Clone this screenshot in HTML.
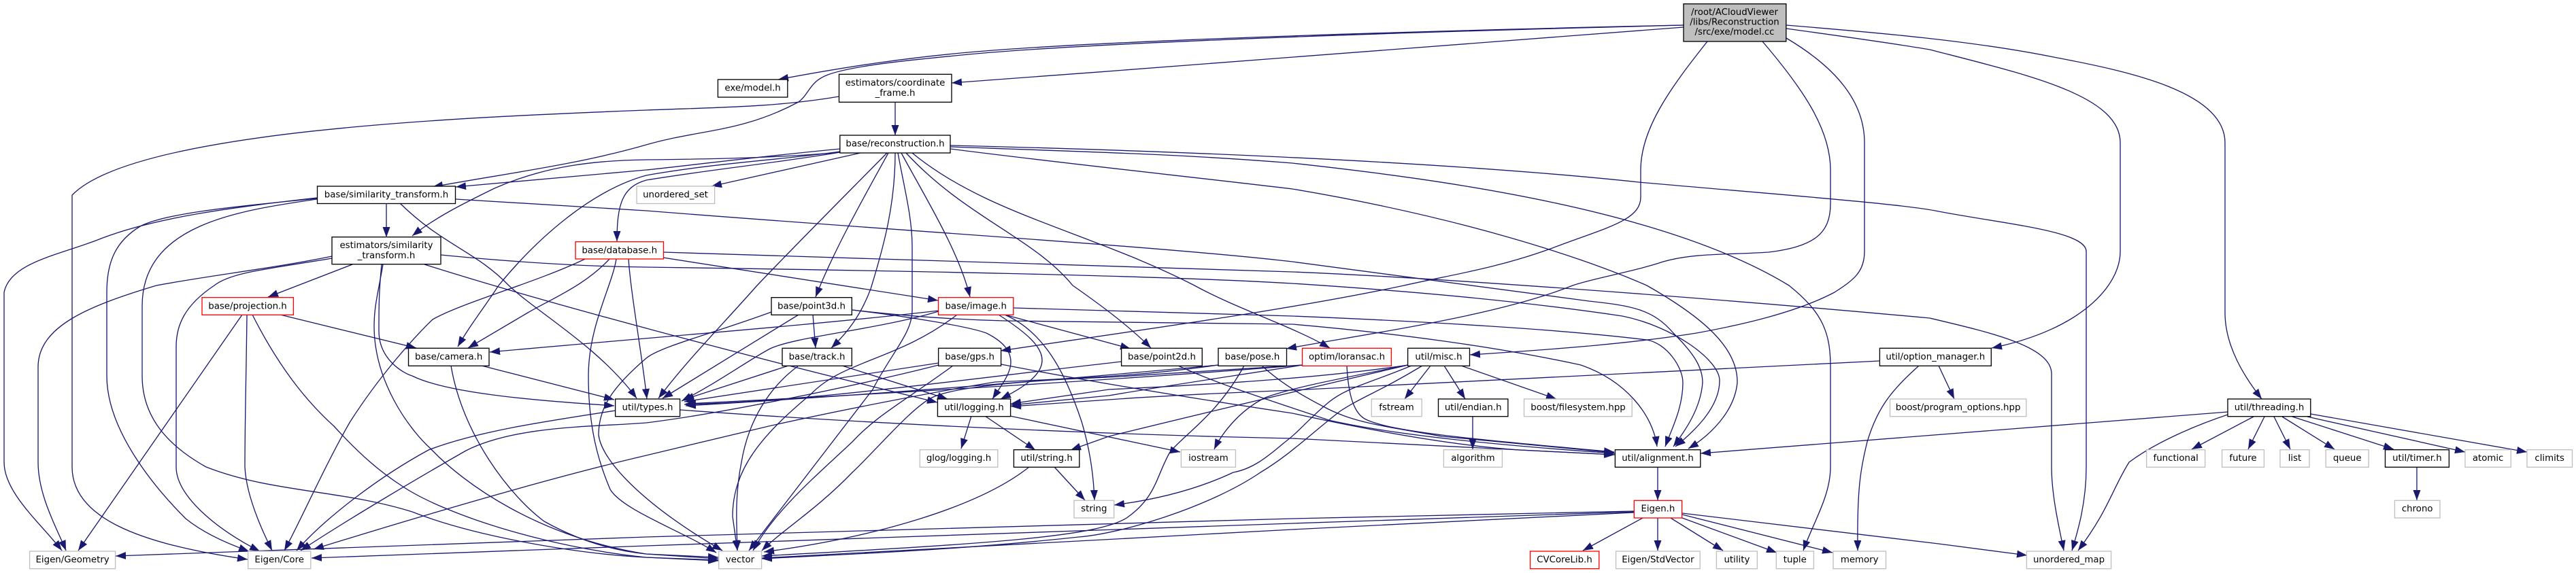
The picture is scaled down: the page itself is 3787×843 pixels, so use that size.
<!DOCTYPE html>
<html><head><meta charset="utf-8"><title>model.cc include graph</title>
<style>html,body{margin:0;padding:0;background:#fff}svg{display:block}
text{font-family:"DejaVu Sans","Liberation Sans",sans-serif;font-size:13.33px;text-anchor:middle;fill:#000}
.n rect{fill:#fff;stroke:#000;stroke-width:1.33}.g rect{fill:#fff;stroke:#bfbfbf;stroke-width:1.33}.r rect{fill:#fff;stroke:#f00;stroke-width:1.33}</style></head>
<body>
<svg xmlns="http://www.w3.org/2000/svg" width="3787" height="843" viewBox="0 0 3787 843">
<defs><marker id="a" markerUnits="userSpaceOnUse" markerWidth="16" markerHeight="12" refX="15" refY="6" orient="auto"><path d="M0 .5L15 6L0 11.5z" fill="#191970"/></marker></defs>
<rect width="3787" height="843" fill="#fff"/>
<g fill="none" stroke="#191970" stroke-width="1.33" marker-end="url(#a)">
<!-- root -->
<path d="M2475 37C2150 44 1650 58 1435 76C1340 84 1250 97 1144 117"/>
<path d="M2475 37C2150 45 1650 60 1435 79C1340 88 1255 96 1217 110C1190 120 1190 138 1174 150C1090 195 1030 190 950 213C850 242 745 255 636 275"/>
<path d="M2475 40C2250 60 1800 92 1399 122"/>
<path d="M2510 61C2455 130 2412 190 2412 250L2412 290C2412 325 2360 335 2282 365C2200 395 2130 405 2064 420C1900 455 1680 485 1471 516"/>
<path d="M2591 61C2650 130 2691 190 2691 250L2691 300C2691 345 2665 363 2600 371C2540 375 2490 372 2445 385C2400 400 2340 410 2312 420C2200 465 2015 490 1891 513"/>
<path d="M2626 56C2700 100 2741 150 2741 210L2741 370C2741 400 2725 412 2697 430C2640 460 2560 478 2494 490C2400 505 2300 513 2161 522"/>
<path d="M2626 37C2760 48 2900 60 3019 84C3130 105 3271 135 3271 210L3271 460C3271 510 3300 555 3325 587"/>
<path d="M2626 42C2720 55 2790 65 2837 73C2980 110 3117 140 3117 210L3117 370C3117 420 3060 485 2928 512"/>
<!-- coordinate frame -->
<path d="M1316 150L1316 199"/>
<path d="M1233 142C1140 158 1050 158 950 162C700 172 200 190 106 287L106 687C106 760 200 800 364 823"/>
<!-- reconstruction -->
<path d="M1265 225L1046 274"/>
<path d="M1235 224C1150 232 1050 234 950 235C870 236 800 245 727 277C680 300 640 320 606 347"/>
<path d="M1235 219C1100 232 1000 245 950 250L670 275"/>
<path d="M1235 223C1150 235 1050 240 950 258C870 280 790 350 733 420C710 455 690 480 673 510"/>
<path d="M1235 224C1140 240 1040 250 950 265C915 275 907 300 907 355"/>
<path d="M1304 225C1240 290 1170 360 1113 420C1060 480 1010 530 968 586"/>
<path d="M1306 225C1270 290 1225 370 1199 437"/>
<path d="M1316 225C1316 300 1300 360 1280 425C1265 465 1245 490 1222 512"/>
<path d="M1320 225C1330 280 1341 320 1341 363L1341 457C1341 490 1310 520 1283 573L1101 810"/>
<path d="M1325 225C1360 290 1410 370 1426 437"/>
<path d="M1332 225C1420 320 1520 350 1577 420C1620 450 1660 480 1692 512"/>
<path d="M1341 225C1450 315 1600 340 1756 420C1820 455 1900 480 1955 512"/>
<path d="M1397 214C1650 220 2100 235 2409 268C2600 285 2800 300 2850 311C2950 330 3067 340 3067 370L3067 687C3067 740 3055 780 3046 810"/>
<path d="M1397 216C1650 225 1750 228 1900 240C2130 265 2450 310 2630 420C2680 460 2691 490 2691 540L2691 687C2691 730 2665 770 2651 810"/>
<path d="M1397 219C1560 240 1750 260 1900 278C2150 320 2330 380 2421 420C2500 465 2555 510 2554 563C2550 605 2515 640 2482 660"/>
<!-- similarity transform -->
<path d="M568 299L568 349"/>
<path d="M588 299C650 360 700 370 748 420C790 460 880 510 936 586"/>
<path d="M670 293L950 310C1300 338 1700 362 1900 385C2050 405 2200 425 2336 443C2400 450 2430 455 2460 490C2490 520 2503 540 2503 563C2500 600 2480 630 2460 657"/>
<path d="M466 291C340 305 230 320 151 350C90 375 15 385 6 430L6 680C6 725 60 770 91 810"/>
<path d="M466 292C330 305 240 315 206 333C170 355 157 385 157 430L157 553C157 640 240 730 273 763C300 785 335 800 366 811"/>
<path d="M466 293C350 310 209 330 209 450L209 553C209 620 255 660 303 687C400 725 500 720 606 753C700 790 850 815 950 820L1056 824"/>
<!-- estimators similarity -->
<path d="M488 377C400 395 310 405 230 420C130 450 56 480 56 540L56 680C56 730 85 780 97 810"/>
<path d="M488 380C400 395 340 400 315 420C270 450 259 480 259 510L259 687C259 730 320 780 382 811"/>
<path d="M518 389L394 437"/>
<path d="M563 389C556 430 550 450 550 480C550 560 600 630 633 660C680 710 790 790 950 815L1056 822"/>
<path d="M561 389C557 430 557 450 557 487C557 530 595 550 606 553C660 580 800 590 903 597"/>
<path d="M624 389C800 445 1100 525 1378 592"/>
<path d="M648 375C750 385 850 392 950 393C1300 398 1700 405 1900 417C2100 430 2250 445 2385 465C2460 480 2528 530 2528 560C2528 600 2490 635 2463 657"/>
<!-- database -->
<path d="M860 381C790 415 680 445 636 470C610 495 560 550 515 620C480 680 440 770 418 810"/>
<path d="M896 381C860 420 810 440 776 460L688 512"/>
<path d="M906 381C900 420 865 480 865 553C865 630 880 680 897 720C915 750 1000 780 1053 813"/>
<path d="M924 381C927 430 945 530 951 587"/>
<path d="M975 379L1379 442"/>
<path d="M975 371L1900 400C2100 408 2500 437 2837 468C2930 490 3016 510 3016 550L3016 687C3016 730 3028 780 3034 810"/>
<!-- projection -->
<path d="M412 463L612 512"/>
<path d="M356 463L115 810"/>
<path d="M363 463C362 550 360 620 360 687C362 730 385 780 400 810"/>
<path d="M371 463C410 540 450 590 491 627C530 670 560 695 591 715C650 755 800 805 950 820L1056 825"/>
<!-- camera -->
<path d="M708 538L903 588"/>
<path d="M663 538C680 640 750 730 800 767C850 795 900 810 950 815L1056 820"/>
<!-- types -->
<path d="M905 604C800 620 700 635 630 662C560 700 480 760 436 810"/>
<path d="M1000 603C1300 625 1650 640 1900 645C2050 652 2200 660 2373 669"/>
<!-- image -->
<path d="M1380 457C1200 478 950 497 720 518"/>
<path d="M1380 458C1290 485 1170 495 1132 513C1100 530 1060 560 1002 590"/>
<path d="M1407 463C1320 530 1240 530 1192 580C1120 640 1077 690 1077 760L1084 810"/>
<path d="M1477 463L1662 513"/>
<path d="M1468 463C1510 490 1532 510 1532 530C1532 555 1495 575 1471 587"/>
<path d="M1477 463C1540 490 1570 560 1590 620C1605 670 1608 710 1609 736"/>
<path d="M1490 453L1900 465C2100 473 2300 485 2421 500C2450 505 2474 540 2474 563C2474 600 2458 630 2448 657"/>
<!-- point3d -->
<path d="M1253 456C1330 465 1400 470 1477 472L1900 477C2050 490 2200 510 2324 537C2390 560 2430 610 2436 657"/>
<path d="M1174 463L974 586"/>
<path d="M1195 463L1199 512"/>
<path d="M1253 456C1330 465 1423 480 1450 490C1480 505 1486 520 1486 533C1486 550 1470 570 1459 587"/>
<path d="M1134 459C1050 490 970 510 950 527C900 570 880 600 880 640C885 680 950 745 1062 810"/>
<!-- track -->
<path d="M1159 538L1005 588"/>
<path d="M1174 538C1130 570 1100 620 1090 680C1080 730 1083 770 1084 810"/>
<path d="M1238 538L1393 587"/>
<!-- gps -->
<path d="M1380 534L1006 591"/>
<path d="M1380 537C1250 570 1050 610 950 622C880 628 760 625 685 663C620 700 510 765 442 810"/>
<path d="M1401 538C1330 590 1290 610 1253 650C1200 700 1140 750 1107 810"/>
<path d="M1472 536C1620 565 1780 590 1900 608C2000 630 2130 655 2233 662L2374 669"/>
<!-- point2d -->
<path d="M1649 532C1400 560 1200 590 1006 595"/>
<path d="M1732 538C1790 565 1870 590 1953 618C2050 640 2200 655 2374 667"/>
<!-- pose -->
<path d="M1791 537C1600 555 1300 580 1008 597"/>
<path d="M1791 537C1700 550 1630 555 1463 562C1400 572 1250 600 1130 627L950 670C800 705 600 765 461 808"/>
<path d="M1829 538C1790 610 1740 640 1720 665C1700 700 1700 730 1659 760C1620 790 1450 800 1120 818"/>
<path d="M1855 538C1890 570 1930 590 1953 602C1990 620 2020 625 2120 642L2373 666"/>
<!-- loransac -->
<path d="M1915 537C1700 555 1300 580 1008 594"/>
<path d="M1915 537C1800 555 1700 570 1630 582L1486 596"/>
<path d="M1915 537C1800 545 1700 550 1630 555C1500 560 1400 570 1370 585C1340 600 1290 660 1253 695C1200 750 1150 780 1120 810"/>
<path d="M1980 538C1982 580 1990 610 2010 618C2050 635 2150 645 2373 665"/>
<!-- misc -->
<path d="M2103 538L2065 587"/>
<path d="M2123 538L2154 587"/>
<path d="M2148 538L2288 587"/>
<path d="M2070 537C1950 555 1800 565 1630 573L1486 594"/>
<path d="M2070 537C1980 555 1900 570 1860 585C1820 605 1795 640 1785 661"/>
<path d="M2070 537C1950 565 1800 600 1630 642L1574 662"/>
<path d="M2075 538C2010 565 1980 570 1953 592C1920 620 1910 635 1887 652C1860 675 1840 690 1813 695C1760 720 1700 735 1638 743"/>
<path d="M2091 538C2030 575 2000 585 1970 605C1925 640 1895 670 1853 695C1780 745 1650 785 1586 790C1400 810 1250 815 1120 822"/>
<!-- endian -->
<path d="M2165 613L2165 661"/>
<!-- logging -->
<path d="M1428 612L1413 660"/>
<path d="M1448 612L1522 662"/>
<path d="M1485 612L1735 665"/>
<!-- util/string -->
<path d="M1513 687C1440 745 1290 790 1123 812"/>
<path d="M1550 687L1595 736"/>
<!-- option -->
<path d="M2850 538L2873 587"/>
<path d="M2821 538C2780 575 2760 600 2745 650C2735 690 2730 720 2731 810"/>
<path d="M2763 531L1900 574C1800 578 1700 583 1630 588L1486 598"/>
<!-- threading -->
<path d="M3275 606L2500 667"/>
<path d="M3275 610C3230 625 3170 650 3130 680C3105 720 3100 750 3055 810"/>
<path d="M3313 613L3222 661"/>
<path d="M3329 613L3305 661"/>
<path d="M3343 613L3367 661"/>
<path d="M3355 613L3432 661"/>
<path d="M3370 613L3519 661"/>
<path d="M3392 613L3624 665"/>
<path d="M3397 609L3715 665"/>
<path d="M3553 687L3553 736"/>
<!-- alignment and Eigen -->
<path d="M2437 687L2437 736"/>
<path d="M2415 762L2327 810"/>
<path d="M2437 762L2437 810"/>
<path d="M2456 762L2533 810"/>
<path d="M2473 762L2612 813"/>
<path d="M2473 757L2694 813"/>
<path d="M2473 755L2850 800L2980 817"/>
<path d="M2402 752L1900 763L950 790L170 818"/>
<path d="M2402 753L1900 770L950 803L458 821"/>
<path d="M2402 754L1900 779L1120 821"/>
</g>

<g class="n">
<rect x="2475" y="5.7" width="150.8" height="55.3" style="fill:#bfbfbf"/><text x="2550" y="22">/root/ACloudViewer</text><text x="2550" y="36.5">/libs/Reconstruction</text><text x="2550" y="51">/src/exe/model.cc</text>
<rect x="1055.4" y="117" width="102.4" height="26"/><text x="1106.6" y="133.5">exe/model.h</text>
<rect x="1233.5" y="109.3" width="165.5" height="41"/><text x="1316" y="126">estimators/coordinate</text><text x="1316" y="141">_frame.h</text>
<rect x="1234.8" y="199" width="162.2" height="26"/><text x="1316" y="215.5">base/reconstruction.h</text>
<rect x="466.5" y="274" width="203" height="25.5"/><text x="568" y="290.5">base/similarity_transform.h</text>
<rect x="488" y="348.7" width="160" height="40"/><text x="568" y="365">estimators/similarity</text><text x="568" y="380">_transform.h</text>
<rect x="600.5" y="512.3" width="118.5" height="26"/><text x="659.7" y="529">base/camera.h</text>
<rect x="904.6" y="587" width="95" height="25.7"/><text x="952" y="603.5">util/types.h</text>
<rect x="1134" y="437.7" width="118.3" height="25.6"/><text x="1193" y="454.5">base/point3d.h</text>
<rect x="1150" y="512.3" width="102.3" height="26"/><text x="1201" y="529">base/track.h</text>
<rect x="1379.6" y="512.3" width="92" height="26"/><text x="1425.6" y="529">base/gps.h</text>
<rect x="1648.6" y="512.3" width="118.7" height="26"/><text x="1708" y="529">base/point2d.h</text>
<rect x="1791" y="512.3" width="100.5" height="26"/><text x="1841" y="529">base/pose.h</text>
<rect x="1378.4" y="587" width="107.2" height="25.7"/><text x="1432" y="603.5">util/logging.h</text>
<rect x="1490.4" y="661.7" width="96.4" height="25.6"/><text x="1538.6" y="678">util/string.h</text>
<rect x="2069.6" y="512.3" width="90.9" height="26"/><text x="2115" y="529">util/misc.h</text>
<rect x="2763.4" y="512.3" width="163.9" height="26"/><text x="2845.3" y="529">util/option_manager.h</text>
<rect x="2114.5" y="587" width="102.4" height="25.7"/><text x="2165.7" y="603.5">util/endian.h</text>
<rect x="2374.4" y="661.7" width="125.4" height="25.6"/><text x="2437" y="678">util/alignment.h</text>
<rect x="3275" y="587" width="121.8" height="25.7"/><text x="3336" y="603.5">util/threading.h</text>
<rect x="3506.5" y="661.7" width="93.9" height="25.6"/><text x="3553.4" y="678">util/timer.h</text>
</g>
<g class="r">
<rect x="846" y="355.7" width="129.5" height="25.3"/><text x="910.7" y="372.5">base/database.h</text>
<rect x="297" y="437.7" width="134.4" height="25.6"/><text x="364" y="454.5">base/projection.h</text>
<rect x="1379.6" y="437.7" width="110.2" height="25.6"/><text x="1434.7" y="454.5">base/image.h</text>
<rect x="1914.5" y="512.3" width="130.9" height="26"/><text x="1980" y="529">optim/loransac.h</text>
<rect x="2402.3" y="736.3" width="70.3" height="25.7"/><text x="2437.4" y="752.5">Eigen.h</text>
<rect x="2249.6" y="811" width="101.2" height="25.7"/><text x="2300" y="827.5">CVCoreLib.h</text>
</g>
<g class="g">
<rect x="936" y="274" width="114.6" height="25.5"/><text x="993" y="290.5">unordered_set</text>
<rect x="43.6" y="811" width="126" height="25.7"/><text x="106.6" y="827.5">Eigen/Geometry</text>
<rect x="364.7" y="811" width="92.1" height="25.7"/><text x="410.7" y="827.5">Eigen/Core</text>
<rect x="1352.3" y="661.7" width="114.5" height="25.6"/><text x="1409.5" y="678">glog/logging.h</text>
<rect x="1736.4" y="661.7" width="80" height="25.6"/><text x="1776.4" y="678">iostream</text>
<rect x="1579" y="736.3" width="58.7" height="25.7"/><text x="1608.3" y="752.5">string</text>
<rect x="1056.6" y="811" width="63" height="25.7"/><text x="1088" y="827.5">vector</text>
<rect x="2016.3" y="587" width="73.9" height="25.7"/><text x="2053" y="603.5">fstream</text>
<rect x="2240.5" y="587" width="158.7" height="25.7"/><text x="2320" y="603.5">boost/filesystem.hpp</text>
<rect x="2778.5" y="587" width="200.3" height="25.7"/><text x="2878.6" y="603.5">boost/program_options.hpp</text>
<rect x="2122.4" y="661.7" width="86" height="25.6"/><text x="2165.4" y="678">algorithm</text>
<rect x="2375.6" y="811" width="123.6" height="25.7"/><text x="2437.4" y="827.5">Eigen/StdVector</text>
<rect x="2523.4" y="811" width="60" height="25.7"/><text x="2553.4" y="827.5">utility</text>
<rect x="2611.3" y="811" width="55.1" height="25.7"/><text x="2638.8" y="827.5">tuple</text>
<rect x="2695" y="811" width="77.5" height="25.7"/><text x="2733.7" y="827.5">memory</text>
<rect x="2979.4" y="811" width="124.2" height="25.7"/><text x="3041.5" y="827.5">unordered_map</text>
<rect x="3155.7" y="661.7" width="86" height="25.6"/><text x="3198.7" y="678">functional</text>
<rect x="3266.6" y="661.7" width="61.8" height="25.6"/><text x="3297.5" y="678">future</text>
<rect x="3352" y="661.7" width="43" height="25.6"/><text x="3373.5" y="678">list</text>
<rect x="3419.2" y="661.7" width="63" height="25.6"/><text x="3450.7" y="678">queue</text>
<rect x="3624" y="661.7" width="67.3" height="25.6"/><text x="3657.6" y="678">atomic</text>
<rect x="3715" y="661.7" width="66.5" height="25.6"/><text x="3748.2" y="678">climits</text>
<rect x="3520.4" y="736.3" width="66.6" height="25.7"/><text x="3553.7" y="752.5">chrono</text>
</g>
</svg>
</body></html>
